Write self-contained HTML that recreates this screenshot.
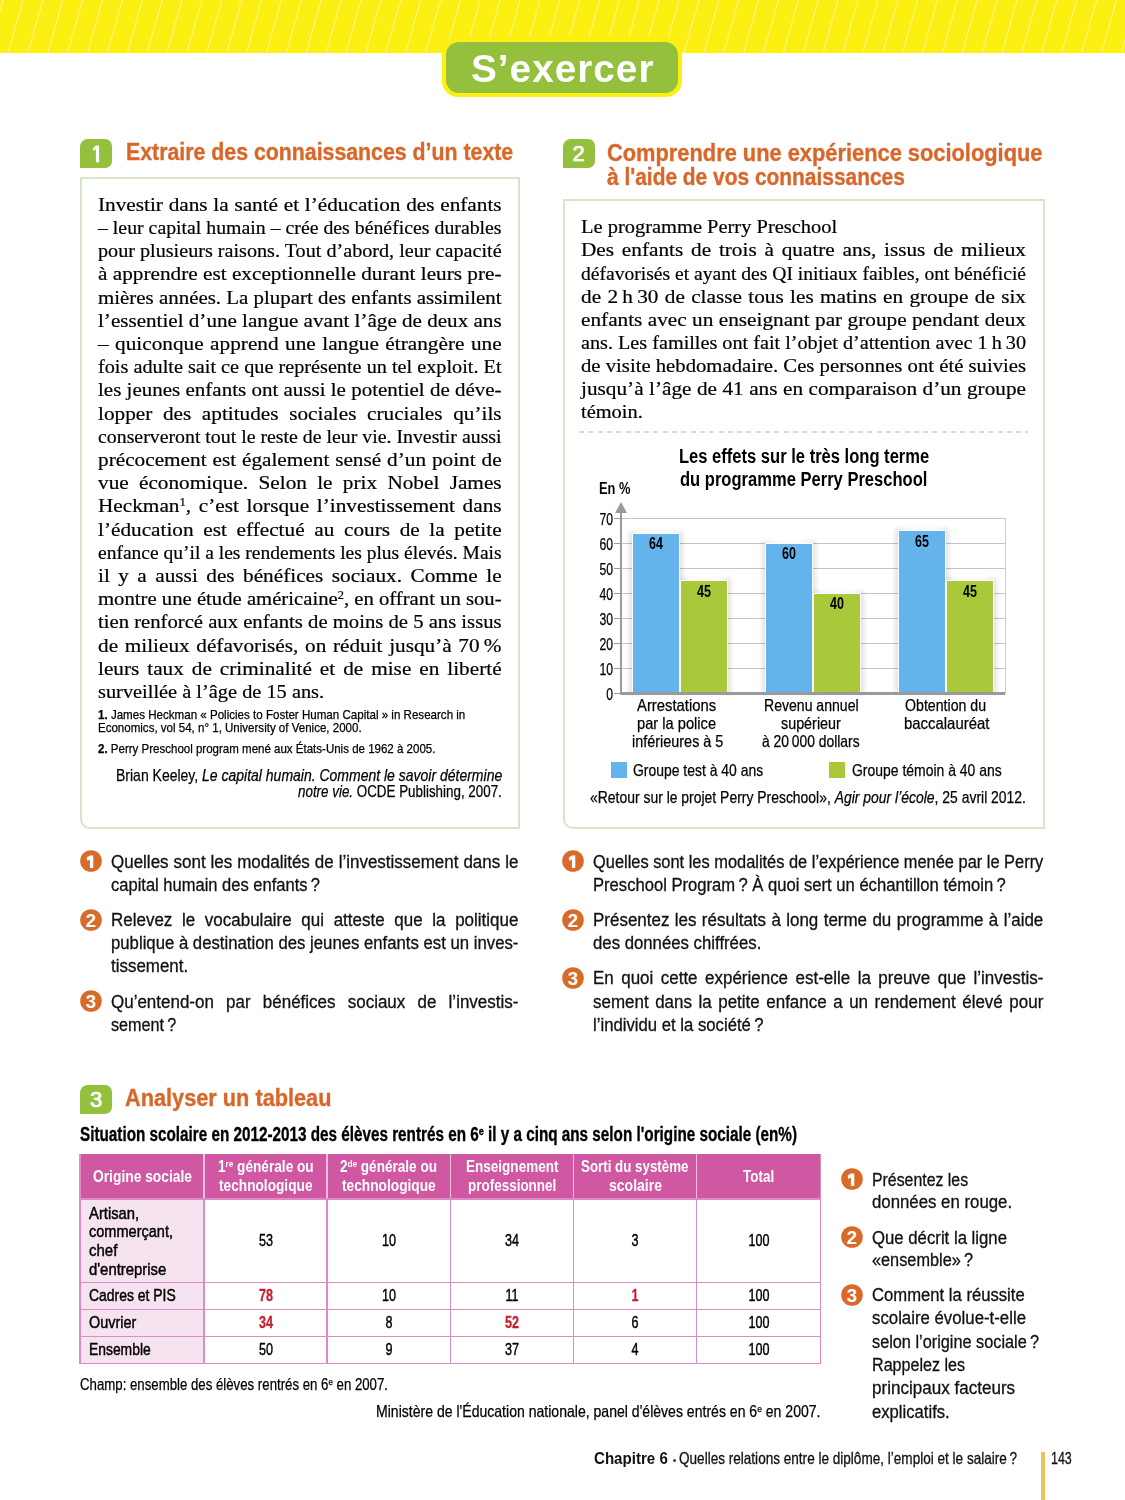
<!DOCTYPE html><html><head><meta charset="utf-8"><title>S’exercer</title><style>
html,body{margin:0;padding:0;background:#fff;}
body{width:1125px;height:1500px;position:relative;overflow:hidden;}
.t{position:absolute;white-space:nowrap;}
sup{font-size:0.6em;line-height:0;vertical-align:0.55em;}
</style></head><body>
<svg style="position:absolute;left:0;top:0" width="1125" height="53"><rect width="1125" height="53" fill="#fbf012"/><g stroke="#fffbd0" stroke-width="1" opacity="0.7"><line x1="-16.76" y1="0" x2="-31.76" y2="53"/><line x1="3.12" y1="0" x2="-11.88" y2="53"/><line x1="23.00" y1="0" x2="8.00" y2="53"/><line x1="42.88" y1="0" x2="27.88" y2="53"/><line x1="62.76" y1="0" x2="47.76" y2="53"/><line x1="82.64" y1="0" x2="67.64" y2="53"/><line x1="102.52" y1="0" x2="87.52" y2="53"/><line x1="122.40" y1="0" x2="107.40" y2="53"/><line x1="142.28" y1="0" x2="127.28" y2="53"/><line x1="162.16" y1="0" x2="147.16" y2="53"/><line x1="182.04" y1="0" x2="167.04" y2="53"/><line x1="201.92" y1="0" x2="186.92" y2="53"/><line x1="221.80" y1="0" x2="206.80" y2="53"/><line x1="241.68" y1="0" x2="226.68" y2="53"/><line x1="261.56" y1="0" x2="246.56" y2="53"/><line x1="281.44" y1="0" x2="266.44" y2="53"/><line x1="301.32" y1="0" x2="286.32" y2="53"/><line x1="321.20" y1="0" x2="306.20" y2="53"/><line x1="341.08" y1="0" x2="326.08" y2="53"/><line x1="360.96" y1="0" x2="345.96" y2="53"/><line x1="380.84" y1="0" x2="365.84" y2="53"/><line x1="400.72" y1="0" x2="385.72" y2="53"/><line x1="420.60" y1="0" x2="405.60" y2="53"/><line x1="440.48" y1="0" x2="425.48" y2="53"/><line x1="460.36" y1="0" x2="445.36" y2="53"/><line x1="480.24" y1="0" x2="465.24" y2="53"/><line x1="500.12" y1="0" x2="485.12" y2="53"/><line x1="520.00" y1="0" x2="505.00" y2="53"/><line x1="539.88" y1="0" x2="524.88" y2="53"/><line x1="559.76" y1="0" x2="544.76" y2="53"/><line x1="579.64" y1="0" x2="564.64" y2="53"/><line x1="599.52" y1="0" x2="584.52" y2="53"/><line x1="619.40" y1="0" x2="604.40" y2="53"/><line x1="639.28" y1="0" x2="624.28" y2="53"/><line x1="659.16" y1="0" x2="644.16" y2="53"/><line x1="679.04" y1="0" x2="664.04" y2="53"/><line x1="698.92" y1="0" x2="683.92" y2="53"/><line x1="718.80" y1="0" x2="703.80" y2="53"/><line x1="738.68" y1="0" x2="723.68" y2="53"/><line x1="758.56" y1="0" x2="743.56" y2="53"/><line x1="778.44" y1="0" x2="763.44" y2="53"/><line x1="798.32" y1="0" x2="783.32" y2="53"/><line x1="818.20" y1="0" x2="803.20" y2="53"/><line x1="838.08" y1="0" x2="823.08" y2="53"/><line x1="857.96" y1="0" x2="842.96" y2="53"/><line x1="877.84" y1="0" x2="862.84" y2="53"/><line x1="897.72" y1="0" x2="882.72" y2="53"/><line x1="917.60" y1="0" x2="902.60" y2="53"/><line x1="937.48" y1="0" x2="922.48" y2="53"/><line x1="957.36" y1="0" x2="942.36" y2="53"/><line x1="977.24" y1="0" x2="962.24" y2="53"/><line x1="997.12" y1="0" x2="982.12" y2="53"/><line x1="1017.00" y1="0" x2="1002.00" y2="53"/><line x1="1036.88" y1="0" x2="1021.88" y2="53"/><line x1="1056.76" y1="0" x2="1041.76" y2="53"/><line x1="1076.64" y1="0" x2="1061.64" y2="53"/><line x1="1096.52" y1="0" x2="1081.52" y2="53"/><line x1="1116.40" y1="0" x2="1101.40" y2="53"/><line x1="1136.28" y1="0" x2="1121.28" y2="53"/><line x1="1156.16" y1="0" x2="1141.16" y2="53"/><line x1="1176.04" y1="0" x2="1161.04" y2="53"/><line x1="1195.92" y1="0" x2="1180.92" y2="53"/></g></svg>
<div style="position:absolute;left:442px;top:37px;width:239.5px;height:60px;background:#fbf012;border-radius:16px;"></div>
<div style="position:absolute;left:446px;top:42px;width:231.5px;height:51px;background:#94c03d;border-radius:13px;"></div>
<div id="t1" class="t" style="left:471.00px;top:43.57px;font-family:'Liberation Sans', sans-serif;font-size:38.5px;line-height:50.05px;font-weight:700;color:#fff;width:182.41px;transform:scaleX(1.0060);transform-origin:0 0;letter-spacing:1px;">S’exercer</div>
<div style="position:absolute;left:80px;top:139px;width:32px;height:29px;background:#94c03d;border-radius:8px 7px 7px 0;"></div>
<svg style="position:absolute;left:80px;top:139px" width="32" height="29"><path d="M15.9 6.6 H19.1 V23.3 H15.9 V10.3 L13.3 11.7 L12.8 9.4 Z" fill="#fff"/></svg>
<div style="position:absolute;left:562.5px;top:139px;width:32px;height:29px;background:#94c03d;border-radius:8px 7px 7px 0;"></div>
<div id="t2" class="t" style="left:562.50px;top:140.20px;font-family:'Liberation Sans', sans-serif;font-size:22px;line-height:28.6px;font-weight:400;color:#fff;width:32.00px;text-align:center;-webkit-text-stroke:0.7px #fff;">2</div>
<div style="position:absolute;left:80px;top:1084.5px;width:32px;height:29px;background:#94c03d;border-radius:8px 7px 7px 0;"></div>
<div id="t3" class="t" style="left:80.00px;top:1085.70px;font-family:'Liberation Sans', sans-serif;font-size:22px;line-height:28.6px;font-weight:400;color:#fff;width:32.00px;text-align:center;-webkit-text-stroke:0.7px #fff;">3</div>
<div id="t4" class="t" style="left:125.80px;top:137.95px;font-family:'Liberation Sans', sans-serif;font-size:23px;line-height:29.9px;font-weight:700;color:#d9672a;width:418.02px;transform:scaleX(0.9263);transform-origin:0 0;-webkit-text-stroke:0.35px #d9672a;">Extraire des connaissances d’un texte</div>
<div id="t5" class="t" style="left:607.00px;top:139.25px;font-family:'Liberation Sans', sans-serif;font-size:23px;line-height:29.9px;font-weight:700;color:#d9672a;width:458.84px;transform:scaleX(0.9491);transform-origin:0 0;-webkit-text-stroke:0.35px #d9672a;">Comprendre une expérience sociologique</div>
<div id="t6" class="t" style="left:607.00px;top:162.55px;font-family:'Liberation Sans', sans-serif;font-size:23px;line-height:29.9px;font-weight:700;color:#d9672a;width:327.64px;transform:scaleX(0.9089);transform-origin:0 0;-webkit-text-stroke:0.35px #d9672a;">à l'aide de vos connaissances</div>
<div id="t7" class="t" style="left:125.30px;top:1084.45px;font-family:'Liberation Sans', sans-serif;font-size:23px;line-height:29.9px;font-weight:700;color:#d9672a;width:218.58px;transform:scaleX(0.9447);transform-origin:0 0;-webkit-text-stroke:0.35px #d9672a;">Analyser un tableau</div>
<div style="position:absolute;left:80px;top:177px;width:439.5px;height:652px;box-sizing:border-box;border:2px solid #d5e6cb;border-radius:0 0 0 10px;"></div>
<div style="position:absolute;left:563px;top:199px;width:482px;height:629.5px;box-sizing:border-box;border:2px solid #d5e6cb;border-radius:0 0 0 10px;"></div>
<div id="t8" class="t" style="left:98.40px;top:191.82px;font-family:'Liberation Serif', serif;font-size:19.5px;line-height:25.35px;font-weight:400;color:#000;width:370.28px;text-align:justify;text-align-last:justify;transform:scaleX(1.0900);transform-origin:0 0;-webkit-text-stroke:0.2px #000;">Investir dans la santé et l’éducation des enfants</div>
<div id="t9" class="t" style="left:98.40px;top:215.02px;font-family:'Liberation Serif', serif;font-size:19.5px;line-height:25.35px;font-weight:400;color:#000;width:397.42px;text-align:justify;text-align-last:justify;transform:scaleX(1.0155);transform-origin:0 0;-webkit-text-stroke:0.2px #000;">– leur capital humain – crée des bénéfices durables</div>
<div id="t10" class="t" style="left:98.40px;top:238.22px;font-family:'Liberation Serif', serif;font-size:19.5px;line-height:25.35px;font-weight:400;color:#000;width:390.34px;text-align:justify;text-align-last:justify;transform:scaleX(1.0340);transform-origin:0 0;-webkit-text-stroke:0.2px #000;">pour plusieurs raisons. Tout d’abord, leur capacité</div>
<div id="t11" class="t" style="left:98.40px;top:261.43px;font-family:'Liberation Serif', serif;font-size:19.5px;line-height:25.35px;font-weight:400;color:#000;width:370.34px;text-align:justify;text-align-last:justify;transform:scaleX(1.0898);transform-origin:0 0;-webkit-text-stroke:0.2px #000;">à apprendre est exceptionnelle durant leurs pre-</div>
<div id="t12" class="t" style="left:98.40px;top:284.62px;font-family:'Liberation Serif', serif;font-size:19.5px;line-height:25.35px;font-weight:400;color:#000;width:376.34px;text-align:justify;text-align-last:justify;transform:scaleX(1.0724);transform-origin:0 0;-webkit-text-stroke:0.2px #000;">mières années. La plupart des enfants assimilent</div>
<div id="t13" class="t" style="left:98.40px;top:307.82px;font-family:'Liberation Serif', serif;font-size:19.5px;line-height:25.35px;font-weight:400;color:#000;width:373.06px;text-align:justify;text-align-last:justify;transform:scaleX(1.0819);transform-origin:0 0;-webkit-text-stroke:0.2px #000;">l’essentiel d’une langue avant l’âge de deux ans</div>
<div id="t14" class="t" style="left:98.40px;top:331.02px;font-family:'Liberation Serif', serif;font-size:19.5px;line-height:25.35px;font-weight:400;color:#000;width:370.28px;text-align:justify;text-align-last:justify;transform:scaleX(1.0900);transform-origin:0 0;-webkit-text-stroke:0.2px #000;">– quiconque apprend une langue étrangère une</div>
<div id="t15" class="t" style="left:98.40px;top:354.22px;font-family:'Liberation Serif', serif;font-size:19.5px;line-height:25.35px;font-weight:400;color:#000;width:388.78px;text-align:justify;text-align-last:justify;transform:scaleX(1.0381);transform-origin:0 0;-webkit-text-stroke:0.2px #000;">fois adulte sait ce que représente un tel exploit. Et</div>
<div id="t16" class="t" style="left:98.40px;top:377.43px;font-family:'Liberation Serif', serif;font-size:19.5px;line-height:25.35px;font-weight:400;color:#000;width:374.72px;text-align:justify;text-align-last:justify;transform:scaleX(1.0771);transform-origin:0 0;-webkit-text-stroke:0.2px #000;">les jeunes enfants ont aussi le potentiel de déve-</div>
<div id="t17" class="t" style="left:98.40px;top:400.62px;font-family:'Liberation Serif', serif;font-size:19.5px;line-height:25.35px;font-weight:400;color:#000;width:370.28px;text-align:justify;text-align-last:justify;transform:scaleX(1.0900);transform-origin:0 0;-webkit-text-stroke:0.2px #000;">lopper des aptitudes sociales cruciales qu’ils</div>
<div id="t18" class="t" style="left:98.40px;top:423.82px;font-family:'Liberation Serif', serif;font-size:19.5px;line-height:25.35px;font-weight:400;color:#000;width:396.92px;text-align:justify;text-align-last:justify;transform:scaleX(1.0168);transform-origin:0 0;-webkit-text-stroke:0.2px #000;">conserveront tout le reste de leur vie. Investir aussi</div>
<div id="t19" class="t" style="left:98.40px;top:447.02px;font-family:'Liberation Serif', serif;font-size:19.5px;line-height:25.35px;font-weight:400;color:#000;width:370.28px;text-align:justify;text-align-last:justify;transform:scaleX(1.0900);transform-origin:0 0;-webkit-text-stroke:0.2px #000;">précocement est également sensé d’un point de</div>
<div id="t20" class="t" style="left:98.40px;top:470.22px;font-family:'Liberation Serif', serif;font-size:19.5px;line-height:25.35px;font-weight:400;color:#000;width:370.28px;text-align:justify;text-align-last:justify;transform:scaleX(1.0900);transform-origin:0 0;-webkit-text-stroke:0.2px #000;">vue économique. Selon le prix Nobel James</div>
<div id="t21" class="t" style="left:98.40px;top:493.42px;font-family:'Liberation Serif', serif;font-size:19.5px;line-height:25.35px;font-weight:400;color:#000;width:370.28px;text-align:justify;text-align-last:justify;transform:scaleX(1.0900);transform-origin:0 0;-webkit-text-stroke:0.2px #000;">Heckman<sup>1</sup>, c’est lorsque l’investissement dans</div>
<div id="t22" class="t" style="left:98.40px;top:516.62px;font-family:'Liberation Serif', serif;font-size:19.5px;line-height:25.35px;font-weight:400;color:#000;width:370.28px;text-align:justify;text-align-last:justify;transform:scaleX(1.0900);transform-origin:0 0;-webkit-text-stroke:0.2px #000;">l’éducation est effectué au cours de la petite</div>
<div id="t23" class="t" style="left:98.40px;top:539.83px;font-family:'Liberation Serif', serif;font-size:19.5px;line-height:25.35px;font-weight:400;color:#000;width:403.41px;text-align:justify;text-align-last:justify;transform:scaleX(1.0005);transform-origin:0 0;-webkit-text-stroke:0.2px #000;">enfance qu’il a les rendements les plus élevés. Mais</div>
<div id="t24" class="t" style="left:98.40px;top:563.03px;font-family:'Liberation Serif', serif;font-size:19.5px;line-height:25.35px;font-weight:400;color:#000;width:370.28px;text-align:justify;text-align-last:justify;transform:scaleX(1.0900);transform-origin:0 0;-webkit-text-stroke:0.2px #000;">il y a aussi des bénéfices sociaux. Comme le</div>
<div id="t25" class="t" style="left:98.40px;top:586.23px;font-family:'Liberation Serif', serif;font-size:19.5px;line-height:25.35px;font-weight:400;color:#000;width:380.19px;text-align:justify;text-align-last:justify;transform:scaleX(1.0616);transform-origin:0 0;-webkit-text-stroke:0.2px #000;">montre une étude américaine<sup>2</sup>, en offrant un sou-</div>
<div id="t26" class="t" style="left:98.40px;top:609.42px;font-family:'Liberation Serif', serif;font-size:19.5px;line-height:25.35px;font-weight:400;color:#000;width:380.70px;text-align:justify;text-align-last:justify;transform:scaleX(1.0601);transform-origin:0 0;-webkit-text-stroke:0.2px #000;">tien renforcé aux enfants de moins de 5 ans issus</div>
<div id="t27" class="t" style="left:98.40px;top:632.62px;font-family:'Liberation Serif', serif;font-size:19.5px;line-height:25.35px;font-weight:400;color:#000;width:370.28px;text-align:justify;text-align-last:justify;transform:scaleX(1.0900);transform-origin:0 0;-webkit-text-stroke:0.2px #000;">de milieux défavorisés, on réduit jusqu’à 70&#8201;%</div>
<div id="t28" class="t" style="left:98.40px;top:655.83px;font-family:'Liberation Serif', serif;font-size:19.5px;line-height:25.35px;font-weight:400;color:#000;width:370.28px;text-align:justify;text-align-last:justify;transform:scaleX(1.0900);transform-origin:0 0;-webkit-text-stroke:0.2px #000;">leurs taux de criminalité et de mise en liberté</div>
<div id="t29" class="t" style="left:98.40px;top:679.03px;font-family:'Liberation Serif', serif;font-size:19.5px;line-height:25.35px;font-weight:400;color:#000;width:216.58px;transform:scaleX(1.0440);transform-origin:0 0;-webkit-text-stroke:0.2px #000;">surveillée à l’âge de 15 ans.</div>
<div id="t30" class="t" style="left:98.00px;top:707.08px;font-family:'Liberation Sans', sans-serif;font-size:12.8px;line-height:16.64px;font-weight:400;color:#000;width:406.14px;transform:scaleX(0.9044);transform-origin:0 0;-webkit-text-stroke:0.25px currentColor;"><b>1.</b> James Heckman « Policies to Foster Human Capital » in Research in</div>
<div id="t31" class="t" style="left:98.00px;top:719.68px;font-family:'Liberation Sans', sans-serif;font-size:12.8px;line-height:16.64px;font-weight:400;color:#000;width:292.50px;transform:scaleX(0.9012);transform-origin:0 0;-webkit-text-stroke:0.25px currentColor;">Economics, vol 54, n° 1, University of Venice, 2000.</div>
<div id="t32" class="t" style="left:98.00px;top:740.58px;font-family:'Liberation Sans', sans-serif;font-size:12.8px;line-height:16.64px;font-weight:400;color:#000;width:374.89px;transform:scaleX(0.9000);transform-origin:0 0;-webkit-text-stroke:0.25px currentColor;"><b>2.</b> Perry Preschool program mené aux États-Unis de 1962 à 2005.</div>
<div id="t33" class="t" style="left:115.60px;top:765.04px;font-family:'Liberation Sans', sans-serif;font-size:16.4px;line-height:21.32px;font-weight:400;color:#000;width:452.48px;transform:scaleX(0.8535);transform-origin:0 0;-webkit-text-stroke:0.25px currentColor;">Brian Keeley, <i>Le capital humain. Comment le savoir détermine</i></div>
<div id="t34" class="t" style="left:298.00px;top:781.44px;font-family:'Liberation Sans', sans-serif;font-size:16.4px;line-height:21.32px;font-weight:400;color:#000;width:249.64px;transform:scaleX(0.8164);transform-origin:0 0;-webkit-text-stroke:0.25px currentColor;"><i>notre vie.</i> OCDE Publishing, 2007.</div>
<div id="t35" class="t" style="left:581.20px;top:214.32px;font-family:'Liberation Serif', serif;font-size:19.5px;line-height:25.35px;font-weight:400;color:#000;width:244.22px;transform:scaleX(1.0491);transform-origin:0 0;-webkit-text-stroke:0.2px #000;">Le programme Perry Preschool</div>
<div id="t36" class="t" style="left:581.20px;top:237.43px;font-family:'Liberation Serif', serif;font-size:19.5px;line-height:25.35px;font-weight:400;color:#000;width:408.26px;text-align:justify;text-align-last:justify;transform:scaleX(1.0900);transform-origin:0 0;-webkit-text-stroke:0.2px #000;">Des enfants de trois à quatre ans, issus de milieux</div>
<div id="t37" class="t" style="left:581.20px;top:260.52px;font-family:'Liberation Serif', serif;font-size:19.5px;line-height:25.35px;font-weight:400;color:#000;width:443.47px;text-align:justify;text-align-last:justify;transform:scaleX(1.0035);transform-origin:0 0;-webkit-text-stroke:0.2px #000;">défavorisés et ayant des QI initiaux faibles, ont bénéficié</div>
<div id="t38" class="t" style="left:581.20px;top:283.62px;font-family:'Liberation Serif', serif;font-size:19.5px;line-height:25.35px;font-weight:400;color:#000;width:408.26px;text-align:justify;text-align-last:justify;transform:scaleX(1.0900);transform-origin:0 0;-webkit-text-stroke:0.2px #000;">de 2&#8201;h&#8201;30 de classe tous les matins en groupe de six</div>
<div id="t39" class="t" style="left:581.20px;top:306.72px;font-family:'Liberation Serif', serif;font-size:19.5px;line-height:25.35px;font-weight:400;color:#000;width:408.26px;text-align:justify;text-align-last:justify;transform:scaleX(1.0900);transform-origin:0 0;-webkit-text-stroke:0.2px #000;">enfants avec un enseignant par groupe pendant deux</div>
<div id="t40" class="t" style="left:581.20px;top:329.82px;font-family:'Liberation Serif', serif;font-size:19.5px;line-height:25.35px;font-weight:400;color:#000;width:429.64px;text-align:justify;text-align-last:justify;transform:scaleX(1.0357);transform-origin:0 0;-webkit-text-stroke:0.2px #000;">ans. Les familles ont fait l’objet d’attention avec 1&#8201;h&#8201;30</div>
<div id="t41" class="t" style="left:581.20px;top:352.93px;font-family:'Liberation Serif', serif;font-size:19.5px;line-height:25.35px;font-weight:400;color:#000;width:419.16px;text-align:justify;text-align-last:justify;transform:scaleX(1.0617);transform-origin:0 0;-webkit-text-stroke:0.2px #000;">de visite hebdomadaire. Ces personnes ont été suivies</div>
<div id="t42" class="t" style="left:581.20px;top:376.03px;font-family:'Liberation Serif', serif;font-size:19.5px;line-height:25.35px;font-weight:400;color:#000;width:408.26px;text-align:justify;text-align-last:justify;transform:scaleX(1.0900);transform-origin:0 0;-webkit-text-stroke:0.2px #000;">jusqu’à l’âge de 41 ans en comparaison d’un groupe</div>
<div id="t43" class="t" style="left:581.20px;top:399.12px;font-family:'Liberation Serif', serif;font-size:19.5px;line-height:25.35px;font-weight:400;color:#000;width:59.05px;transform:scaleX(1.0466);transform-origin:0 0;-webkit-text-stroke:0.2px #000;">témoin.</div>
<div style="position:absolute;left:579px;top:431.3px;width:449px;height:1.5px;background:repeating-linear-gradient(90deg,#d8e0cc 0 5px,transparent 5px 9.3px);"></div>
<div id="t44" class="t" style="left:678.60px;top:442.80px;font-family:'Liberation Sans', sans-serif;font-size:20px;line-height:26.0px;font-weight:700;color:#000;width:302.33px;transform:scaleX(0.8276);transform-origin:0 0;">Les effets sur le très long terme</div>
<div id="t45" class="t" style="left:679.80px;top:466.00px;font-family:'Liberation Sans', sans-serif;font-size:20px;line-height:26.0px;font-weight:700;color:#000;width:298.98px;transform:scaleX(0.8275);transform-origin:0 0;">du programme Perry Preschool</div>
<div id="t46" class="t" style="left:599.20px;top:479.00px;font-family:'Liberation Sans', sans-serif;font-size:16px;line-height:20.8px;font-weight:700;color:#000;width:39.12px;transform:scaleX(0.8026);transform-origin:0 0;">En %</div>
<div style="position:absolute;left:615px;top:667.9px;width:390px;height:1.2px;background:#c4c4c4;"></div>
<div style="position:absolute;left:615px;top:642.9px;width:390px;height:1.2px;background:#c4c4c4;"></div>
<div style="position:absolute;left:615px;top:617.9px;width:390px;height:1.2px;background:#c4c4c4;"></div>
<div style="position:absolute;left:615px;top:592.9px;width:390px;height:1.2px;background:#c4c4c4;"></div>
<div style="position:absolute;left:615px;top:567.9px;width:390px;height:1.2px;background:#c4c4c4;"></div>
<div style="position:absolute;left:615px;top:542.9px;width:390px;height:1.2px;background:#c4c4c4;"></div>
<div style="position:absolute;left:615px;top:517.9px;width:390px;height:1.2px;background:#c4c4c4;"></div>
<div style="position:absolute;left:1004.5px;top:518px;width:1.2px;height:175.5px;background:#d0d0d0;"></div>
<div style="position:absolute;left:629px;top:530.5px;width:54px;height:163.0px;background:linear-gradient(90deg,rgba(0,0,0,0.12),rgba(0,0,0,0.03) 25%,rgba(0,0,0,0.03) 75%,rgba(0,0,0,0.12));filter:blur(2px);"></div>
<div style="position:absolute;left:677px;top:578.0px;width:54px;height:115.5px;background:linear-gradient(90deg,rgba(0,0,0,0.12),rgba(0,0,0,0.03) 25%,rgba(0,0,0,0.03) 75%,rgba(0,0,0,0.12));filter:blur(2px);"></div>
<div style="position:absolute;left:762px;top:540.5px;width:54px;height:153.0px;background:linear-gradient(90deg,rgba(0,0,0,0.12),rgba(0,0,0,0.03) 25%,rgba(0,0,0,0.03) 75%,rgba(0,0,0,0.12));filter:blur(2px);"></div>
<div style="position:absolute;left:810px;top:590.5px;width:54px;height:103.0px;background:linear-gradient(90deg,rgba(0,0,0,0.12),rgba(0,0,0,0.03) 25%,rgba(0,0,0,0.03) 75%,rgba(0,0,0,0.12));filter:blur(2px);"></div>
<div style="position:absolute;left:894.5px;top:528.0px;width:54px;height:165.5px;background:linear-gradient(90deg,rgba(0,0,0,0.12),rgba(0,0,0,0.03) 25%,rgba(0,0,0,0.03) 75%,rgba(0,0,0,0.12));filter:blur(2px);"></div>
<div style="position:absolute;left:942.5px;top:578.0px;width:54px;height:115.5px;background:linear-gradient(90deg,rgba(0,0,0,0.12),rgba(0,0,0,0.03) 25%,rgba(0,0,0,0.03) 75%,rgba(0,0,0,0.12));filter:blur(2px);"></div>
<div style="position:absolute;left:632px;top:532.5px;width:48px;height:161.0px;background:#fff;"></div>
<div style="position:absolute;left:633px;top:533.5px;width:46px;height:160.0px;background:#64b3ea;"></div>
<div id="t47" class="t" style="left:633.00px;top:534.40px;font-family:'Liberation Sans', sans-serif;font-size:16px;line-height:20.8px;font-weight:700;color:#000;width:58.97px;text-align:center;transform:scaleX(0.7800);transform-origin:0 0;">64</div>
<div style="position:absolute;left:680px;top:580.0px;width:48px;height:113.5px;background:#fff;"></div>
<div style="position:absolute;left:681px;top:581.0px;width:46px;height:112.5px;background:#a9c93a;"></div>
<div id="t48" class="t" style="left:681.00px;top:581.90px;font-family:'Liberation Sans', sans-serif;font-size:16px;line-height:20.8px;font-weight:700;color:#000;width:58.97px;text-align:center;transform:scaleX(0.7800);transform-origin:0 0;">45</div>
<div style="position:absolute;left:765px;top:542.5px;width:48px;height:151.0px;background:#fff;"></div>
<div style="position:absolute;left:766px;top:543.5px;width:46px;height:150.0px;background:#64b3ea;"></div>
<div id="t49" class="t" style="left:766.00px;top:544.40px;font-family:'Liberation Sans', sans-serif;font-size:16px;line-height:20.8px;font-weight:700;color:#000;width:58.97px;text-align:center;transform:scaleX(0.7800);transform-origin:0 0;">60</div>
<div style="position:absolute;left:813px;top:592.5px;width:48px;height:101.0px;background:#fff;"></div>
<div style="position:absolute;left:814px;top:593.5px;width:46px;height:100.0px;background:#a9c93a;"></div>
<div id="t50" class="t" style="left:814.00px;top:594.40px;font-family:'Liberation Sans', sans-serif;font-size:16px;line-height:20.8px;font-weight:700;color:#000;width:58.97px;text-align:center;transform:scaleX(0.7800);transform-origin:0 0;">40</div>
<div style="position:absolute;left:897.5px;top:530.0px;width:48px;height:163.5px;background:#fff;"></div>
<div style="position:absolute;left:898.5px;top:531.0px;width:46px;height:162.5px;background:#64b3ea;"></div>
<div id="t51" class="t" style="left:898.50px;top:531.90px;font-family:'Liberation Sans', sans-serif;font-size:16px;line-height:20.8px;font-weight:700;color:#000;width:58.97px;text-align:center;transform:scaleX(0.7800);transform-origin:0 0;">65</div>
<div style="position:absolute;left:945.5px;top:580.0px;width:48px;height:113.5px;background:#fff;"></div>
<div style="position:absolute;left:946.5px;top:581.0px;width:46px;height:112.5px;background:#a9c93a;"></div>
<div id="t52" class="t" style="left:946.50px;top:581.90px;font-family:'Liberation Sans', sans-serif;font-size:16px;line-height:20.8px;font-weight:700;color:#000;width:58.97px;text-align:center;transform:scaleX(0.7800);transform-origin:0 0;">45</div>
<div style="position:absolute;left:620px;top:512px;width:2.2px;height:182px;background:#9a9a9a;"></div>
<svg style="position:absolute;left:614px;top:502px" width="14" height="12"><polygon points="7,0 13,11 1,11" fill="#9a9a9a"/></svg>
<div style="position:absolute;left:620px;top:692.3px;width:385px;height:2.4px;background:#9a9a9a;"></div>
<div style="position:absolute;left:614px;top:692.8px;width:7px;height:1.4px;background:#9a9a9a;"></div>
<div id="t53" class="t" style="left:553.00px;top:684.50px;font-family:'Liberation Sans', sans-serif;font-size:16px;line-height:20.8px;font-weight:400;color:#000;width:78.95px;text-align:right;transform:scaleX(0.7600);transform-origin:0 0;-webkit-text-stroke:0.25px currentColor;">0</div>
<div style="position:absolute;left:614px;top:667.8px;width:7px;height:1.4px;background:#9a9a9a;"></div>
<div id="t54" class="t" style="left:553.00px;top:659.50px;font-family:'Liberation Sans', sans-serif;font-size:16px;line-height:20.8px;font-weight:400;color:#000;width:78.95px;text-align:right;transform:scaleX(0.7600);transform-origin:0 0;-webkit-text-stroke:0.25px currentColor;">10</div>
<div style="position:absolute;left:614px;top:642.8px;width:7px;height:1.4px;background:#9a9a9a;"></div>
<div id="t55" class="t" style="left:553.00px;top:634.50px;font-family:'Liberation Sans', sans-serif;font-size:16px;line-height:20.8px;font-weight:400;color:#000;width:78.95px;text-align:right;transform:scaleX(0.7600);transform-origin:0 0;-webkit-text-stroke:0.25px currentColor;">20</div>
<div style="position:absolute;left:614px;top:617.8px;width:7px;height:1.4px;background:#9a9a9a;"></div>
<div id="t56" class="t" style="left:553.00px;top:609.50px;font-family:'Liberation Sans', sans-serif;font-size:16px;line-height:20.8px;font-weight:400;color:#000;width:78.95px;text-align:right;transform:scaleX(0.7600);transform-origin:0 0;-webkit-text-stroke:0.25px currentColor;">30</div>
<div style="position:absolute;left:614px;top:592.8px;width:7px;height:1.4px;background:#9a9a9a;"></div>
<div id="t57" class="t" style="left:553.00px;top:584.50px;font-family:'Liberation Sans', sans-serif;font-size:16px;line-height:20.8px;font-weight:400;color:#000;width:78.95px;text-align:right;transform:scaleX(0.7600);transform-origin:0 0;-webkit-text-stroke:0.25px currentColor;">40</div>
<div style="position:absolute;left:614px;top:567.8px;width:7px;height:1.4px;background:#9a9a9a;"></div>
<div id="t58" class="t" style="left:553.00px;top:559.50px;font-family:'Liberation Sans', sans-serif;font-size:16px;line-height:20.8px;font-weight:400;color:#000;width:78.95px;text-align:right;transform:scaleX(0.7600);transform-origin:0 0;-webkit-text-stroke:0.25px currentColor;">50</div>
<div style="position:absolute;left:614px;top:542.8px;width:7px;height:1.4px;background:#9a9a9a;"></div>
<div id="t59" class="t" style="left:553.00px;top:534.50px;font-family:'Liberation Sans', sans-serif;font-size:16px;line-height:20.8px;font-weight:400;color:#000;width:78.95px;text-align:right;transform:scaleX(0.7600);transform-origin:0 0;-webkit-text-stroke:0.25px currentColor;">60</div>
<div style="position:absolute;left:614px;top:517.8px;width:7px;height:1.4px;background:#9a9a9a;"></div>
<div id="t60" class="t" style="left:553.00px;top:509.50px;font-family:'Liberation Sans', sans-serif;font-size:16px;line-height:20.8px;font-weight:400;color:#000;width:78.95px;text-align:right;transform:scaleX(0.7600);transform-origin:0 0;-webkit-text-stroke:0.25px currentColor;">70</div>
<div id="t61" class="t" style="left:637.30px;top:694.77px;font-family:'Liberation Sans', sans-serif;font-size:16.5px;line-height:21.45px;font-weight:400;color:#000;width:88.05px;transform:scaleX(0.8984);transform-origin:0 0;-webkit-text-stroke:0.25px currentColor;">Arrestations</div>
<div id="t62" class="t" style="left:637.30px;top:713.07px;font-family:'Liberation Sans', sans-serif;font-size:16.5px;line-height:21.45px;font-weight:400;color:#000;width:88.98px;transform:scaleX(0.8889);transform-origin:0 0;-webkit-text-stroke:0.25px currentColor;">par la police</div>
<div id="t63" class="t" style="left:631.80px;top:730.98px;font-family:'Liberation Sans', sans-serif;font-size:16.5px;line-height:21.45px;font-weight:400;color:#000;width:104.56px;transform:scaleX(0.8741);transform-origin:0 0;-webkit-text-stroke:0.25px currentColor;">inférieures à 5</div>
<div id="t64" class="t" style="left:763.70px;top:694.77px;font-family:'Liberation Sans', sans-serif;font-size:16.5px;line-height:21.45px;font-weight:400;color:#000;width:111.02px;transform:scaleX(0.8521);transform-origin:0 0;-webkit-text-stroke:0.25px currentColor;">Revenu annuel</div>
<div id="t65" class="t" style="left:781.10px;top:713.07px;font-family:'Liberation Sans', sans-serif;font-size:16.5px;line-height:21.45px;font-weight:400;color:#000;width:68.80px;transform:scaleX(0.8692);transform-origin:0 0;-webkit-text-stroke:0.25px currentColor;">supérieur</div>
<div id="t66" class="t" style="left:761.70px;top:730.98px;font-family:'Liberation Sans', sans-serif;font-size:16.5px;line-height:21.45px;font-weight:400;color:#000;width:116.14px;transform:scaleX(0.8404);transform-origin:0 0;-webkit-text-stroke:0.25px currentColor;">à 20&#8201;000 dollars</div>
<div id="t67" class="t" style="left:905.30px;top:694.77px;font-family:'Liberation Sans', sans-serif;font-size:16.5px;line-height:21.45px;font-weight:400;color:#000;width:94.50px;transform:scaleX(0.8582);transform-origin:0 0;-webkit-text-stroke:0.25px currentColor;">Obtention du</div>
<div id="t68" class="t" style="left:903.60px;top:713.07px;font-family:'Liberation Sans', sans-serif;font-size:16.5px;line-height:21.45px;font-weight:400;color:#000;width:94.48px;transform:scaleX(0.9039);transform-origin:0 0;-webkit-text-stroke:0.25px currentColor;">baccalauréat</div>
<div style="position:absolute;left:611px;top:762px;width:16px;height:16px;background:#64b3ea;"></div>
<div id="t69" class="t" style="left:632.80px;top:759.85px;font-family:'Liberation Sans', sans-serif;font-size:17px;line-height:22.1px;font-weight:400;color:#000;width:158.78px;transform:scaleX(0.8200);transform-origin:0 0;-webkit-text-stroke:0.25px currentColor;">Groupe test à 40 ans</div>
<div style="position:absolute;left:829px;top:762px;width:16px;height:16px;background:#a9c93a;"></div>
<div id="t70" class="t" style="left:851.60px;top:759.85px;font-family:'Liberation Sans', sans-serif;font-size:17px;line-height:22.1px;font-weight:400;color:#000;width:182.41px;transform:scaleX(0.8207);transform-origin:0 0;-webkit-text-stroke:0.25px currentColor;">Groupe témoin à 40 ans</div>
<div id="t71" class="t" style="left:590.00px;top:787.25px;font-family:'Liberation Sans', sans-serif;font-size:17px;line-height:22.1px;font-weight:400;color:#000;width:532.02px;transform:scaleX(0.8195);transform-origin:0 0;-webkit-text-stroke:0.25px currentColor;">«Retour sur le projet Perry Preschool», <i>Agir pour l’école</i>, 25 avril 2012.</div>
<svg style="position:absolute;left:80px;top:850px" width="22" height="22"><circle cx="11" cy="11" r="10.8" fill="#d86a2a"/><path d="M9.9 5.5 H13.3 V18 H9.9 V9.6 L7.3 10.9 L6.7 7.6 Z" fill="#fff"/></svg>
<svg style="position:absolute;left:80px;top:908.7px" width="22" height="22"><circle cx="11" cy="11" r="10.8" fill="#d86a2a"/><text x="11" y="17.6" text-anchor="middle" font-family="Liberation Sans" font-weight="700" font-size="18.5" fill="#fff">2</text></svg>
<svg style="position:absolute;left:80px;top:989.9px" width="22" height="22"><circle cx="11" cy="11" r="10.8" fill="#d86a2a"/><text x="11" y="17.6" text-anchor="middle" font-family="Liberation Sans" font-weight="700" font-size="18.5" fill="#fff">3</text></svg>
<div id="t72" class="t" style="left:111.40px;top:850.92px;font-family:'Liberation Sans', sans-serif;font-size:17.5px;line-height:22.75px;font-weight:400;color:#111;width:420.00px;text-align:justify;text-align-last:justify;transform:scaleX(0.9700);transform-origin:0 0;-webkit-text-stroke:0.3px #111;">Quelles sont les modalités de l’investissement dans le</div>
<div id="t73" class="t" style="left:111.40px;top:873.83px;font-family:'Liberation Sans', sans-serif;font-size:17.5px;line-height:22.75px;font-weight:400;color:#111;width:221.44px;transform:scaleX(0.9438);transform-origin:0 0;-webkit-text-stroke:0.3px #111;">capital humain des enfants&#8239;?</div>
<div id="t74" class="t" style="left:111.40px;top:908.73px;font-family:'Liberation Sans', sans-serif;font-size:17.5px;line-height:22.75px;font-weight:400;color:#111;width:420.00px;text-align:justify;text-align-last:justify;transform:scaleX(0.9700);transform-origin:0 0;-webkit-text-stroke:0.3px #111;">Relevez le vocabulaire qui atteste que la politique</div>
<div id="t75" class="t" style="left:111.40px;top:931.73px;font-family:'Liberation Sans', sans-serif;font-size:17.5px;line-height:22.75px;font-weight:400;color:#111;width:426.14px;text-align:justify;text-align-last:justify;transform:scaleX(0.9560);transform-origin:0 0;-webkit-text-stroke:0.3px #111;">publique à destination des jeunes enfants est un inves-</div>
<div id="t76" class="t" style="left:111.40px;top:955.12px;font-family:'Liberation Sans', sans-serif;font-size:17.5px;line-height:22.75px;font-weight:400;color:#111;width:79.75px;transform:scaleX(0.9668);transform-origin:0 0;-webkit-text-stroke:0.3px #111;">tissement.</div>
<div id="t77" class="t" style="left:111.40px;top:990.52px;font-family:'Liberation Sans', sans-serif;font-size:17.5px;line-height:22.75px;font-weight:400;color:#111;width:420.00px;text-align:justify;text-align-last:justify;transform:scaleX(0.9700);transform-origin:0 0;-webkit-text-stroke:0.3px #111;">Qu’entend-on par bénéfices sociaux de l’investis-</div>
<div id="t78" class="t" style="left:111.40px;top:1013.53px;font-family:'Liberation Sans', sans-serif;font-size:17.5px;line-height:22.75px;font-weight:400;color:#111;width:70.62px;transform:scaleX(0.9246);transform-origin:0 0;-webkit-text-stroke:0.3px #111;">sement&#8239;?</div>
<svg style="position:absolute;left:562px;top:850.4px" width="22" height="22"><circle cx="11" cy="11" r="10.8" fill="#d86a2a"/><path d="M9.9 5.5 H13.3 V18 H9.9 V9.6 L7.3 10.9 L6.7 7.6 Z" fill="#fff"/></svg>
<svg style="position:absolute;left:562px;top:908.7px" width="22" height="22"><circle cx="11" cy="11" r="10.8" fill="#d86a2a"/><text x="11" y="17.6" text-anchor="middle" font-family="Liberation Sans" font-weight="700" font-size="18.5" fill="#fff">2</text></svg>
<svg style="position:absolute;left:562px;top:967.3px" width="22" height="22"><circle cx="11" cy="11" r="10.8" fill="#d86a2a"/><text x="11" y="17.6" text-anchor="middle" font-family="Liberation Sans" font-weight="700" font-size="18.5" fill="#fff">3</text></svg>
<div id="t79" class="t" style="left:593.20px;top:850.92px;font-family:'Liberation Sans', sans-serif;font-size:17.5px;line-height:22.75px;font-weight:400;color:#111;width:480.53px;text-align:justify;text-align-last:justify;transform:scaleX(0.9371);transform-origin:0 0;-webkit-text-stroke:0.3px #111;">Quelles sont les modalités de l’expérience menée par le Perry</div>
<div id="t80" class="t" style="left:593.20px;top:873.83px;font-family:'Liberation Sans', sans-serif;font-size:17.5px;line-height:22.75px;font-weight:400;color:#111;width:435.03px;transform:scaleX(0.9489);transform-origin:0 0;-webkit-text-stroke:0.3px #111;">Preschool Program&#8239;? À quoi sert un échantillon témoin&#8239;?</div>
<div id="t81" class="t" style="left:593.20px;top:908.73px;font-family:'Liberation Sans', sans-serif;font-size:17.5px;line-height:22.75px;font-weight:400;color:#111;width:464.23px;text-align:justify;text-align-last:justify;transform:scaleX(0.9700);transform-origin:0 0;-webkit-text-stroke:0.3px #111;">Présentez les résultats à long terme du programme à l’aide</div>
<div id="t82" class="t" style="left:593.20px;top:931.73px;font-family:'Liberation Sans', sans-serif;font-size:17.5px;line-height:22.75px;font-weight:400;color:#111;width:175.78px;transform:scaleX(0.9574);transform-origin:0 0;-webkit-text-stroke:0.3px #111;">des données chiffrées.</div>
<div id="t83" class="t" style="left:593.20px;top:967.12px;font-family:'Liberation Sans', sans-serif;font-size:17.5px;line-height:22.75px;font-weight:400;color:#111;width:464.23px;text-align:justify;text-align-last:justify;transform:scaleX(0.9700);transform-origin:0 0;-webkit-text-stroke:0.3px #111;">En quoi cette expérience est-elle la preuve que l’investis-</div>
<div id="t84" class="t" style="left:593.20px;top:990.52px;font-family:'Liberation Sans', sans-serif;font-size:17.5px;line-height:22.75px;font-weight:400;color:#111;width:464.23px;text-align:justify;text-align-last:justify;transform:scaleX(0.9700);transform-origin:0 0;-webkit-text-stroke:0.3px #111;">sement dans la petite enfance a un rendement élevé pour</div>
<div id="t85" class="t" style="left:593.20px;top:1013.83px;font-family:'Liberation Sans', sans-serif;font-size:17.5px;line-height:22.75px;font-weight:400;color:#111;width:178.61px;transform:scaleX(0.9546);transform-origin:0 0;-webkit-text-stroke:0.3px #111;">l’individu et la société&#8239;?</div>
<svg style="position:absolute;left:840.5px;top:1167.6px" width="22" height="22"><circle cx="11" cy="11" r="10.8" fill="#d86a2a"/><path d="M9.9 5.5 H13.3 V18 H9.9 V9.6 L7.3 10.9 L6.7 7.6 Z" fill="#fff"/></svg>
<svg style="position:absolute;left:840.5px;top:1225.9px" width="22" height="22"><circle cx="11" cy="11" r="10.8" fill="#d86a2a"/><text x="11" y="17.6" text-anchor="middle" font-family="Liberation Sans" font-weight="700" font-size="18.5" fill="#fff">2</text></svg>
<svg style="position:absolute;left:840.5px;top:1284.2px" width="22" height="22"><circle cx="11" cy="11" r="10.8" fill="#d86a2a"/><text x="11" y="17.6" text-anchor="middle" font-family="Liberation Sans" font-weight="700" font-size="18.5" fill="#fff">3</text></svg>
<div id="t86" class="t" style="left:871.90px;top:1168.92px;font-family:'Liberation Sans', sans-serif;font-size:17.5px;line-height:22.75px;font-weight:400;color:#111;width:106.03px;transform:scaleX(0.9063);transform-origin:0 0;-webkit-text-stroke:0.3px #111;">Présentez les</div>
<div id="t87" class="t" style="left:871.90px;top:1191.42px;font-family:'Liberation Sans', sans-serif;font-size:17.5px;line-height:22.75px;font-weight:400;color:#111;width:145.97px;transform:scaleX(0.9598);transform-origin:0 0;-webkit-text-stroke:0.3px #111;">données en rouge.</div>
<div id="t88" class="t" style="left:871.90px;top:1226.72px;font-family:'Liberation Sans', sans-serif;font-size:17.5px;line-height:22.75px;font-weight:400;color:#111;width:141.06px;transform:scaleX(0.9570);transform-origin:0 0;-webkit-text-stroke:0.3px #111;">Que décrit la ligne</div>
<div id="t89" class="t" style="left:871.90px;top:1249.22px;font-family:'Liberation Sans', sans-serif;font-size:17.5px;line-height:22.75px;font-weight:400;color:#111;width:108.59px;transform:scaleX(0.9310);transform-origin:0 0;-webkit-text-stroke:0.3px #111;">«ensemble»&#8239;?</div>
<div id="t90" class="t" style="left:871.90px;top:1284.42px;font-family:'Liberation Sans', sans-serif;font-size:17.5px;line-height:22.75px;font-weight:400;color:#111;width:160.48px;transform:scaleX(0.9515);transform-origin:0 0;-webkit-text-stroke:0.3px #111;">Comment la réussite</div>
<div id="t91" class="t" style="left:871.90px;top:1307.33px;font-family:'Liberation Sans', sans-serif;font-size:17.5px;line-height:22.75px;font-weight:400;color:#111;width:160.50px;transform:scaleX(0.9595);transform-origin:0 0;-webkit-text-stroke:0.3px #111;">scolaire évolue-t-elle</div>
<div id="t92" class="t" style="left:871.90px;top:1331.03px;font-family:'Liberation Sans', sans-serif;font-size:17.5px;line-height:22.75px;font-weight:400;color:#111;width:179.59px;transform:scaleX(0.9304);transform-origin:0 0;-webkit-text-stroke:0.3px #111;">selon l’origine sociale&#8239;?</div>
<div id="t93" class="t" style="left:871.90px;top:1353.92px;font-family:'Liberation Sans', sans-serif;font-size:17.5px;line-height:22.75px;font-weight:400;color:#111;width:101.17px;transform:scaleX(0.9202);transform-origin:0 0;-webkit-text-stroke:0.3px #111;">Rappelez les</div>
<div id="t94" class="t" style="left:871.90px;top:1377.42px;font-family:'Liberation Sans', sans-serif;font-size:17.5px;line-height:22.75px;font-weight:400;color:#111;width:146.89px;transform:scaleX(0.9742);transform-origin:0 0;-webkit-text-stroke:0.3px #111;">principaux facteurs</div>
<div id="t95" class="t" style="left:871.90px;top:1400.92px;font-family:'Liberation Sans', sans-serif;font-size:17.5px;line-height:22.75px;font-weight:400;color:#111;width:81.70px;transform:scaleX(0.9510);transform-origin:0 0;-webkit-text-stroke:0.3px #111;">explicatifs.</div>
<div id="t96" class="t" style="left:80.00px;top:1121.83px;font-family:'Liberation Sans', sans-serif;font-size:19.5px;line-height:25.35px;font-weight:700;color:#000;width:916.12px;transform:scaleX(0.7826);transform-origin:0 0;-webkit-text-stroke:0.35px #000;">Situation scolaire en 2012-2013 des élèves rentrés en 6<sup>e</sup> il y a cinq ans selon l'origine sociale (en%)</div>
<div style="position:absolute;left:80px;top:1154px;width:740.6px;height:45px;background:#d058a2;"></div>
<div style="position:absolute;left:80px;top:1199px;width:124px;height:164.6px;background:#f6e3f0;"></div>
<div style="position:absolute;left:203.4px;top:1154px;width:1.2px;height:45px;background:#f0bfdd;"></div>
<div style="position:absolute;left:203.3px;top:1199px;width:1.4px;height:164.6px;background:#e08ac4;"></div>
<div style="position:absolute;left:326.4px;top:1154px;width:1.2px;height:45px;background:#f0bfdd;"></div>
<div style="position:absolute;left:326.3px;top:1199px;width:1.4px;height:164.6px;background:#e08ac4;"></div>
<div style="position:absolute;left:449.79999999999995px;top:1154px;width:1.2px;height:45px;background:#f0bfdd;"></div>
<div style="position:absolute;left:449.7px;top:1199px;width:1.4px;height:164.6px;background:#e08ac4;"></div>
<div style="position:absolute;left:572.8px;top:1154px;width:1.2px;height:45px;background:#f0bfdd;"></div>
<div style="position:absolute;left:572.6999999999999px;top:1199px;width:1.4px;height:164.6px;background:#e08ac4;"></div>
<div style="position:absolute;left:695.9px;top:1154px;width:1.2px;height:45px;background:#f0bfdd;"></div>
<div style="position:absolute;left:695.8px;top:1199px;width:1.4px;height:164.6px;background:#e08ac4;"></div>
<div style="position:absolute;left:79.3px;top:1154px;width:1.5px;height:210.3px;background:#e08ac4;"></div>
<div style="position:absolute;left:819.9px;top:1154px;width:1.5px;height:210.3px;background:#e08ac4;"></div>
<div style="position:absolute;left:80px;top:1198.3px;width:740.6px;height:1.5px;background:#e08ac4;"></div>
<div style="position:absolute;left:80px;top:1281.8px;width:740.6px;height:1.5px;background:#e08ac4;"></div>
<div style="position:absolute;left:80px;top:1308.8999999999999px;width:740.6px;height:1.5px;background:#e08ac4;"></div>
<div style="position:absolute;left:80px;top:1335.8999999999999px;width:740.6px;height:1.5px;background:#e08ac4;"></div>
<div style="position:absolute;left:80px;top:1362.8999999999999px;width:740.6px;height:1.5px;background:#e08ac4;"></div>
<div id="t97" class="t" style="left:93.20px;top:1166.28px;font-family:'Liberation Sans', sans-serif;font-size:16.5px;line-height:21.45px;font-weight:700;color:#fff;width:118.30px;transform:scaleX(0.8369);transform-origin:0 0;">Origine sociale</div>
<div id="t98" class="t" style="left:218.00px;top:1156.18px;font-family:'Liberation Sans', sans-serif;font-size:16.5px;line-height:21.45px;font-weight:700;color:#fff;width:115.73px;transform:scaleX(0.8269);transform-origin:0 0;">1<sup>re</sup> générale ou</div>
<div id="t99" class="t" style="left:219.00px;top:1175.28px;font-family:'Liberation Sans', sans-serif;font-size:16.5px;line-height:21.45px;font-weight:700;color:#fff;width:112.75px;transform:scaleX(0.8293);transform-origin:0 0;">technologique</div>
<div id="t100" class="t" style="left:340.30px;top:1156.18px;font-family:'Liberation Sans', sans-serif;font-size:16.5px;line-height:21.45px;font-weight:700;color:#fff;width:117.92px;transform:scaleX(0.8226);transform-origin:0 0;">2<sup>de</sup> générale ou</div>
<div id="t101" class="t" style="left:342.00px;top:1175.28px;font-family:'Liberation Sans', sans-serif;font-size:16.5px;line-height:21.45px;font-weight:700;color:#fff;width:112.75px;transform:scaleX(0.8310);transform-origin:0 0;">technologique</div>
<div id="t102" class="t" style="left:466.00px;top:1156.18px;font-family:'Liberation Sans', sans-serif;font-size:16.5px;line-height:21.45px;font-weight:700;color:#fff;width:112.78px;transform:scaleX(0.8202);transform-origin:0 0;">Enseignement</div>
<div id="t103" class="t" style="left:467.70px;top:1175.28px;font-family:'Liberation Sans', sans-serif;font-size:16.5px;line-height:21.45px;font-weight:700;color:#fff;width:108.19px;transform:scaleX(0.8162);transform-origin:0 0;">professionnel</div>
<div id="t104" class="t" style="left:581.40px;top:1156.18px;font-family:'Liberation Sans', sans-serif;font-size:16.5px;line-height:21.45px;font-weight:700;color:#fff;width:132.97px;transform:scaleX(0.8085);transform-origin:0 0;">Sorti du système</div>
<div id="t105" class="t" style="left:608.80px;top:1175.28px;font-family:'Liberation Sans', sans-serif;font-size:16.5px;line-height:21.45px;font-weight:700;color:#fff;width:62.38px;transform:scaleX(0.8497);transform-origin:0 0;">scolaire</div>
<div id="t106" class="t" style="left:742.60px;top:1166.28px;font-family:'Liberation Sans', sans-serif;font-size:16.5px;line-height:21.45px;font-weight:700;color:#fff;width:38.20px;transform:scaleX(0.8167);transform-origin:0 0;">Total</div>
<div id="t107" class="t" style="left:88.70px;top:1202.65px;font-family:'Liberation Sans', sans-serif;font-size:17px;line-height:22.1px;font-weight:400;color:#000;width:57.64px;transform:scaleX(0.8709);transform-origin:0 0;-webkit-text-stroke:0.45px #000;">Artisan,</div>
<div id="t108" class="t" style="left:88.70px;top:1221.45px;font-family:'Liberation Sans', sans-serif;font-size:17px;line-height:22.1px;font-weight:400;color:#000;width:98.25px;transform:scaleX(0.8550);transform-origin:0 0;-webkit-text-stroke:0.45px #000;">commerçant,</div>
<div id="t109" class="t" style="left:88.70px;top:1240.35px;font-family:'Liberation Sans', sans-serif;font-size:17px;line-height:22.1px;font-weight:400;color:#000;width:32.14px;transform:scaleX(0.8836);transform-origin:0 0;-webkit-text-stroke:0.45px #000;">chef</div>
<div id="t110" class="t" style="left:88.70px;top:1259.25px;font-family:'Liberation Sans', sans-serif;font-size:17px;line-height:22.1px;font-weight:400;color:#000;width:88.30px;transform:scaleX(0.8755);transform-origin:0 0;-webkit-text-stroke:0.45px #000;">d'entreprise</div>
<div id="t111" class="t" style="left:88.70px;top:1285.45px;font-family:'Liberation Sans', sans-serif;font-size:17px;line-height:22.1px;font-weight:400;color:#000;width:105.83px;transform:scaleX(0.8193);transform-origin:0 0;-webkit-text-stroke:0.45px #000;">Cadres et PIS</div>
<div id="t112" class="t" style="left:88.70px;top:1312.45px;font-family:'Liberation Sans', sans-serif;font-size:17px;line-height:22.1px;font-weight:400;color:#000;width:55.73px;transform:scaleX(0.8469);transform-origin:0 0;-webkit-text-stroke:0.45px #000;">Ouvrier</div>
<div id="t113" class="t" style="left:88.70px;top:1339.45px;font-family:'Liberation Sans', sans-serif;font-size:17px;line-height:22.1px;font-weight:400;color:#000;width:75.61px;transform:scaleX(0.8160);transform-origin:0 0;-webkit-text-stroke:0.45px #000;">Ensemble</div>
<div id="t114" class="t" style="left:205.50px;top:1230.25px;font-family:'Liberation Sans', sans-serif;font-size:17px;line-height:22.1px;font-weight:400;color:#000;width:162.16px;text-align:center;transform:scaleX(0.7400);transform-origin:0 0;-webkit-text-stroke:0.45px #000;">53</div>
<div id="t115" class="t" style="left:328.70px;top:1230.25px;font-family:'Liberation Sans', sans-serif;font-size:17px;line-height:22.1px;font-weight:400;color:#000;width:162.16px;text-align:center;transform:scaleX(0.7400);transform-origin:0 0;-webkit-text-stroke:0.45px #000;">10</div>
<div id="t116" class="t" style="left:451.90px;top:1230.25px;font-family:'Liberation Sans', sans-serif;font-size:17px;line-height:22.1px;font-weight:400;color:#000;width:162.16px;text-align:center;transform:scaleX(0.7400);transform-origin:0 0;-webkit-text-stroke:0.45px #000;">34</div>
<div id="t117" class="t" style="left:574.95px;top:1230.25px;font-family:'Liberation Sans', sans-serif;font-size:17px;line-height:22.1px;font-weight:400;color:#000;width:162.16px;text-align:center;transform:scaleX(0.7400);transform-origin:0 0;-webkit-text-stroke:0.45px #000;">3</div>
<div id="t118" class="t" style="left:698.55px;top:1230.25px;font-family:'Liberation Sans', sans-serif;font-size:17px;line-height:22.1px;font-weight:400;color:#000;width:162.16px;text-align:center;transform:scaleX(0.7400);transform-origin:0 0;-webkit-text-stroke:0.45px #000;">100</div>
<div id="t119" class="t" style="left:205.50px;top:1285.45px;font-family:'Liberation Sans', sans-serif;font-size:17px;line-height:22.1px;font-weight:700;color:#c41e2c;width:162.16px;text-align:center;transform:scaleX(0.7400);transform-origin:0 0;-webkit-text-stroke:0.3px #c41e2c;">78</div>
<div id="t120" class="t" style="left:328.70px;top:1285.45px;font-family:'Liberation Sans', sans-serif;font-size:17px;line-height:22.1px;font-weight:400;color:#000;width:162.16px;text-align:center;transform:scaleX(0.7400);transform-origin:0 0;-webkit-text-stroke:0.45px #000;">10</div>
<div id="t121" class="t" style="left:451.90px;top:1285.45px;font-family:'Liberation Sans', sans-serif;font-size:17px;line-height:22.1px;font-weight:400;color:#000;width:162.16px;text-align:center;transform:scaleX(0.7400);transform-origin:0 0;-webkit-text-stroke:0.45px #000;">11</div>
<div id="t122" class="t" style="left:574.95px;top:1285.45px;font-family:'Liberation Sans', sans-serif;font-size:17px;line-height:22.1px;font-weight:700;color:#c41e2c;width:162.16px;text-align:center;transform:scaleX(0.7400);transform-origin:0 0;-webkit-text-stroke:0.3px #c41e2c;">1</div>
<div id="t123" class="t" style="left:698.55px;top:1285.45px;font-family:'Liberation Sans', sans-serif;font-size:17px;line-height:22.1px;font-weight:400;color:#000;width:162.16px;text-align:center;transform:scaleX(0.7400);transform-origin:0 0;-webkit-text-stroke:0.45px #000;">100</div>
<div id="t124" class="t" style="left:205.50px;top:1312.45px;font-family:'Liberation Sans', sans-serif;font-size:17px;line-height:22.1px;font-weight:700;color:#c41e2c;width:162.16px;text-align:center;transform:scaleX(0.7400);transform-origin:0 0;-webkit-text-stroke:0.3px #c41e2c;">34</div>
<div id="t125" class="t" style="left:328.70px;top:1312.45px;font-family:'Liberation Sans', sans-serif;font-size:17px;line-height:22.1px;font-weight:400;color:#000;width:162.16px;text-align:center;transform:scaleX(0.7400);transform-origin:0 0;-webkit-text-stroke:0.45px #000;">8</div>
<div id="t126" class="t" style="left:451.90px;top:1312.45px;font-family:'Liberation Sans', sans-serif;font-size:17px;line-height:22.1px;font-weight:700;color:#c41e2c;width:162.16px;text-align:center;transform:scaleX(0.7400);transform-origin:0 0;-webkit-text-stroke:0.3px #c41e2c;">52</div>
<div id="t127" class="t" style="left:574.95px;top:1312.45px;font-family:'Liberation Sans', sans-serif;font-size:17px;line-height:22.1px;font-weight:400;color:#000;width:162.16px;text-align:center;transform:scaleX(0.7400);transform-origin:0 0;-webkit-text-stroke:0.45px #000;">6</div>
<div id="t128" class="t" style="left:698.55px;top:1312.45px;font-family:'Liberation Sans', sans-serif;font-size:17px;line-height:22.1px;font-weight:400;color:#000;width:162.16px;text-align:center;transform:scaleX(0.7400);transform-origin:0 0;-webkit-text-stroke:0.45px #000;">100</div>
<div id="t129" class="t" style="left:205.50px;top:1339.45px;font-family:'Liberation Sans', sans-serif;font-size:17px;line-height:22.1px;font-weight:400;color:#000;width:162.16px;text-align:center;transform:scaleX(0.7400);transform-origin:0 0;-webkit-text-stroke:0.45px #000;">50</div>
<div id="t130" class="t" style="left:328.70px;top:1339.45px;font-family:'Liberation Sans', sans-serif;font-size:17px;line-height:22.1px;font-weight:400;color:#000;width:162.16px;text-align:center;transform:scaleX(0.7400);transform-origin:0 0;-webkit-text-stroke:0.45px #000;">9</div>
<div id="t131" class="t" style="left:451.90px;top:1339.45px;font-family:'Liberation Sans', sans-serif;font-size:17px;line-height:22.1px;font-weight:400;color:#000;width:162.16px;text-align:center;transform:scaleX(0.7400);transform-origin:0 0;-webkit-text-stroke:0.45px #000;">37</div>
<div id="t132" class="t" style="left:574.95px;top:1339.45px;font-family:'Liberation Sans', sans-serif;font-size:17px;line-height:22.1px;font-weight:400;color:#000;width:162.16px;text-align:center;transform:scaleX(0.7400);transform-origin:0 0;-webkit-text-stroke:0.45px #000;">4</div>
<div id="t133" class="t" style="left:698.55px;top:1339.45px;font-family:'Liberation Sans', sans-serif;font-size:17px;line-height:22.1px;font-weight:400;color:#000;width:162.16px;text-align:center;transform:scaleX(0.7400);transform-origin:0 0;-webkit-text-stroke:0.45px #000;">100</div>
<div id="t134" class="t" style="left:80.00px;top:1373.98px;font-family:'Liberation Sans', sans-serif;font-size:16.5px;line-height:21.45px;font-weight:400;color:#000;width:384.33px;transform:scaleX(0.8014);transform-origin:0 0;-webkit-text-stroke:0.25px currentColor;">Champ: ensemble des élèves rentrés en 6<sup>e</sup> en 2007.</div>
<div id="t135" class="t" style="left:376.00px;top:1400.98px;font-family:'Liberation Sans', sans-serif;font-size:16.5px;line-height:21.45px;font-weight:400;color:#000;width:521.83px;transform:scaleX(0.8518);transform-origin:0 0;-webkit-text-stroke:0.25px currentColor;">Ministère de l'Éducation nationale, panel d'élèves entrés en 6<sup>e</sup> en 2007.</div>
<div id="t136" class="t" style="left:594.20px;top:1447.98px;font-family:'Liberation Sans', sans-serif;font-size:16.5px;line-height:21.45px;font-weight:700;color:#111;width:80.69px;transform:scaleX(0.9146);transform-origin:0 0;">Chapitre 6</div>
<div style="position:absolute;left:672.5px;top:1458.5px;width:3.2px;height:3.2px;border-radius:50%;background:#4b2a7a;"></div>
<div id="t137" class="t" style="left:678.90px;top:1447.98px;font-family:'Liberation Sans', sans-serif;font-size:16.5px;line-height:21.45px;font-weight:400;color:#111;width:411.44px;transform:scaleX(0.8218);transform-origin:0 0;-webkit-text-stroke:0.3px #111;">Quelles relations entre le diplôme, l’emploi et le salaire&#8239;?</div>
<div style="position:absolute;left:1041px;top:1452px;width:4px;height:48px;background:#e8c35a;"></div>
<div id="t138" class="t" style="left:1051.20px;top:1447.98px;font-family:'Liberation Sans', sans-serif;font-size:16.5px;line-height:21.45px;font-weight:400;color:#111;width:27.53px;transform:scaleX(0.7555);transform-origin:0 0;-webkit-text-stroke:0.3px #111;">143</div>
</body></html>
